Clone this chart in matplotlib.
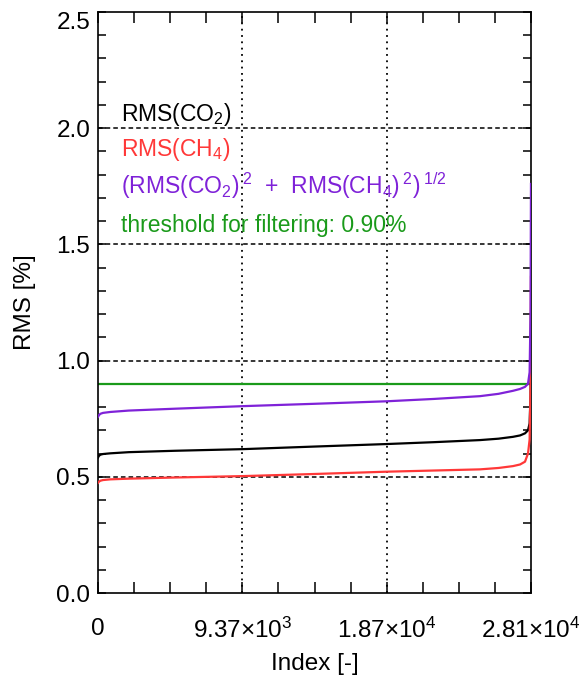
import matplotlib
matplotlib.use("Agg")
import matplotlib.pyplot as plt
from matplotlib.ticker import MultipleLocator, FixedLocator

plt.rcParams["font.family"] = ["Liberation Sans", "DejaVu Sans"]
plt.rcParams["mathtext.fontset"] = "custom"
plt.rcParams["mathtext.rm"] = "Liberation Sans"
plt.rcParams["mathtext.it"] = "Liberation Sans"
plt.rcParams["mathtext.default"] = "regular"

# sorted RMS values at a few indices
idx = [0, 60, 150, 325, 800, 2000, 5000, 9400, 14000, 18760, 21800, 24800,
       26000, 26940, 27400, 27720, 27915, 28020, 28080, 28109]
rms_co2 = [0.583, 0.590, 0.595, 0.598, 0.601, 0.606, 0.612, 0.619, 0.630, 0.641,
           0.649, 0.658, 0.664, 0.672, 0.678, 0.687, 0.700, 0.73, 0.85, 1.20]
rms_ch4 = [0.474, 0.479, 0.483, 0.486, 0.489, 0.492, 0.497, 0.503, 0.512, 0.522,
           0.527, 0.532, 0.538, 0.546, 0.553, 0.565, 0.600, 0.66, 0.90, 1.36]
rms_tot = [0.758, 0.765, 0.771, 0.775, 0.779, 0.785, 0.793, 0.804, 0.814, 0.825,
           0.835, 0.847, 0.857, 0.870, 0.878, 0.887, 0.900, 0.95, 1.20, 1.76]
threshold = 0.90
n_total = 28110

xticks = [0, 9370, 18740, 28110]
xtick_labels = ["0", r"9.37$\times$10$^3$", r"1.87$\times$10$^4$", r"2.81$\times$10$^4$"]
yticks = [0.0, 0.5, 1.0, 1.5, 2.0, 2.5]

fig = plt.figure(figsize=(5.82, 6.75), dpi=100)
ax = fig.add_axes([98 / 582, 1 - 593 / 675, 433 / 582, 581 / 675])

for y in [0.5, 1.0, 1.5, 2.0]:
    ax.axhline(y, color="black", lw=1.1, ls=(0, (3, 2)), zorder=1)
for x in xticks[1:3]:
    ax.axvline(x, color="black", lw=1.3, ls=(0, (1, 2.5)), zorder=1)

ax.plot(idx, rms_co2, color="black", lw=1.6, zorder=3)
ax.plot(idx, rms_ch4, color="#ff3838", lw=1.6, zorder=3)
ax.plot(idx, rms_tot, color="#7f22d8", lw=1.6, zorder=3)
ax.axhline(threshold, color="#1a9a1a", lw=1.6, zorder=2)

ax.set_xlim(0, n_total)
ax.set_ylim(0, 2.5)
ax.xaxis.set_major_locator(FixedLocator(xticks))
ax.xaxis.set_minor_locator(MultipleLocator(n_total / 12))
ax.set_xticklabels(xtick_labels)
ax.set_yticks(yticks)
ax.set_yticklabels(["%.1f" % v for v in yticks])
ax.yaxis.set_minor_locator(MultipleLocator(0.1))
ax.tick_params(which="both", direction="in", top=True, right=True, width=1.1,
               labelsize=17.5, colors="black")
ax.tick_params(axis="x", which="both", length=8, pad=18)
ax.tick_params(axis="y", which="both", length=6, pad=5.5)
# top label sits a little lower in the original
ax.get_yticklabels()[-1].set_va("top")
for s in ax.spines.values():
    s.set_linewidth(1.2)

ax.set_xlabel("Index [-]", fontsize=17.5, labelpad=7)
ax.set_ylabel("RMS [%]", fontsize=17.5, labelpad=15)

kw = dict(transform=ax.transAxes, fontsize=16.5, ha="left", va="baseline")
ax.text(0.053, (593 - 121) / 581, r"RMS(CO$_2$)", color="black", **kw)
ax.text(0.053, (593 - 156) / 581, r"RMS(CH$_4$)", color="#ff3838", **kw)
ax.text(0.053, (593 - 194) / 581,
        r"(RMS(CO$_2$)$\,^2$  +  RMS(CH$_4$)$\,^2$)$\,^{1/2}$", color="#7f22d8", **kw)
ax.text(0.053, (593 - 232) / 581, "threshold for filtering: 0.90%",
        color="#1a9a1a", **kw)

fig.savefig("out.png", dpi=100)
